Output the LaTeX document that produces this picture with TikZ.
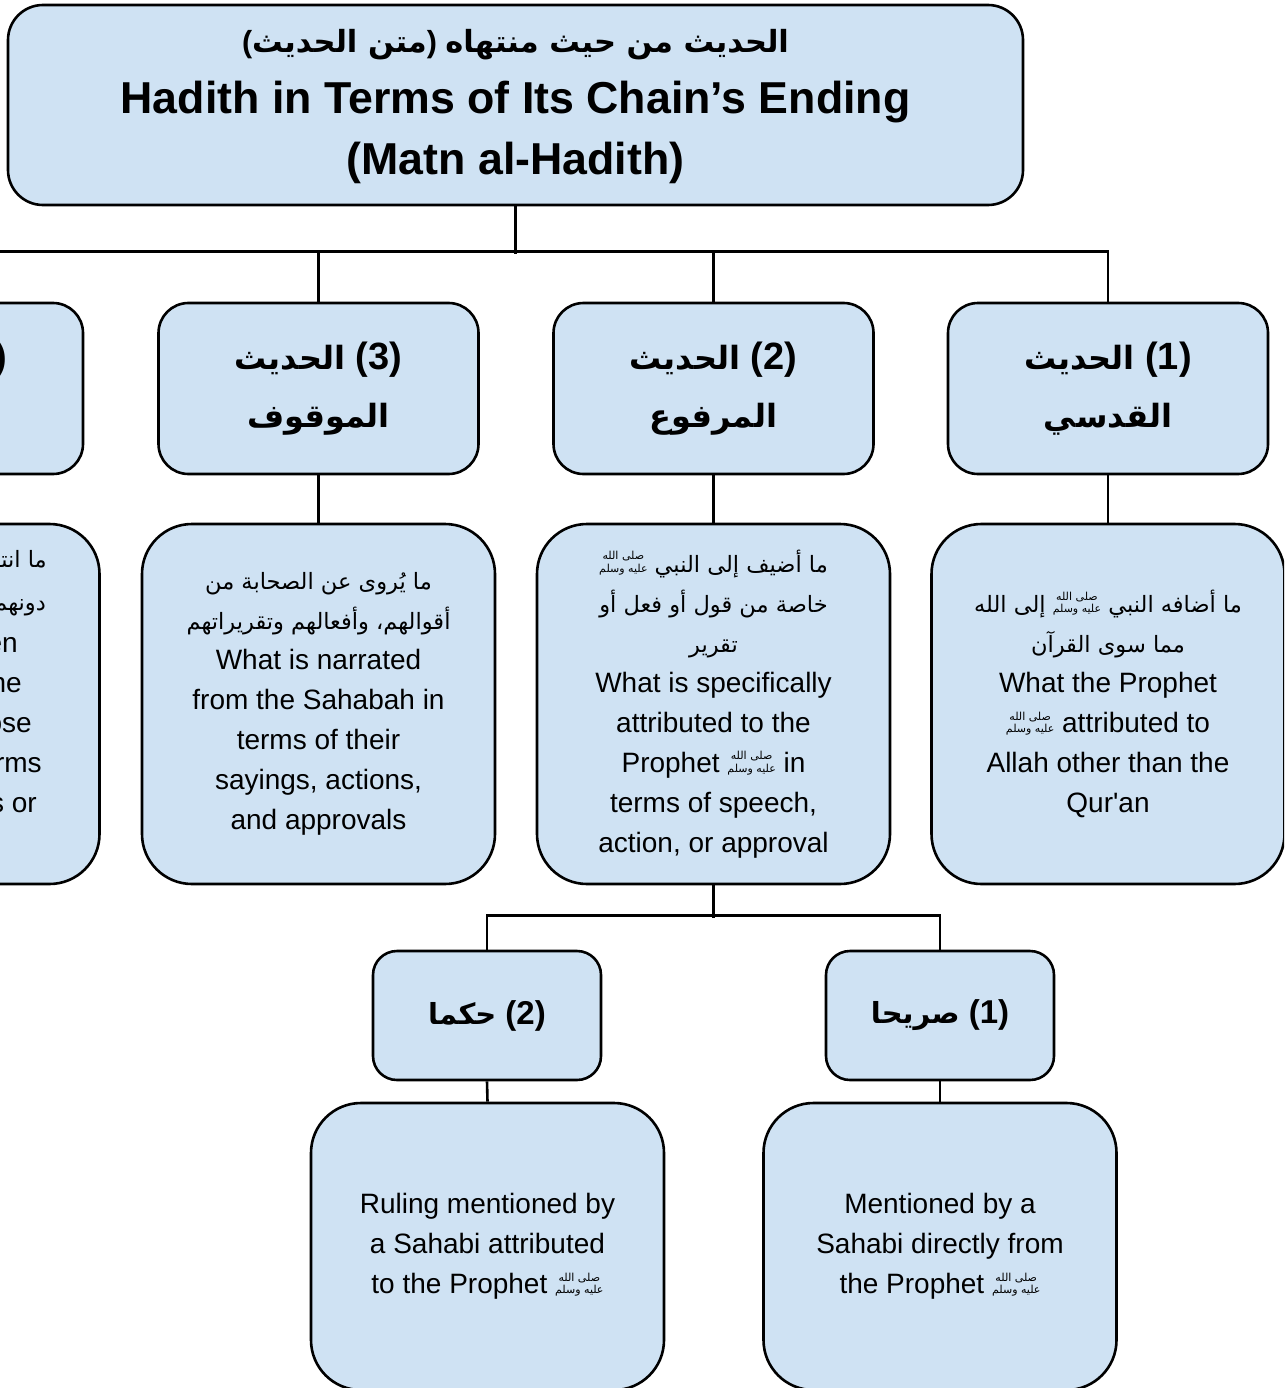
\documentclass[tikz,border=0pt]{standalone}
\usepackage{fontspec}
\newfontfamily\latinfont{Liberation Sans}
\newfontfamily\arabicfont[Script=Arabic]{DejaVu Sans}
\TeXXeTstate=1
\definecolor{boxblue}{HTML}{CFE2F3}
\newcommand\AR[1]{{\arabicfont\beginR #1\endR}}
\newcommand\ARh[1]{{\fontsize{32}{58}\selectfont\arabicfont\beginR #1\endR}}
\newcommand\ARb[1]{{\fontsize{29}{50}\selectfont\arabicfont\beginR #1\endR}}
\newcommand\ARs[1]{{\fontsize{22.5}{40}\selectfont\arabicfont\beginR #1\endR}}
\newcommand\pbuh{{\fontsize{11}{12.5}\selectfont\arabicfont\mdseries\begin{tabular}[b]{@{}c@{}}\beginR صلى الله\endR\\\beginR عليه وسلم\endR\end{tabular}}}
\begin{document}
\begin{tikzpicture}[x=1pt,y=-1pt,
  box/.style={draw=black, fill=boxblue, line width=2.6pt, inner sep=0pt, align=center},
  topbox/.style={box, rounded corners=35pt, minimum width=1015pt, minimum height=200pt},
  hdr/.style={box, rounded corners=30pt, minimum width=320pt, minimum height=171pt, font=\latinfont\bfseries\fontsize{38}{58}\selectfont},
  txt/.style={box, rounded corners=50pt, minimum width=353pt, minimum height=360pt, font=\latinfont\fontsize{28}{40}\selectfont},
  subbox/.style={box, rounded corners=24pt, minimum width=228pt, minimum height=129pt, font=\latinfont\bfseries\fontsize{33}{50}\selectfont},
  leaf/.style={box, rounded corners=50pt, minimum width=353pt, minimum height=287pt, font=\latinfont\fontsize{28}{40}\selectfont},
  frag/.style={inner sep=0pt, font=\latinfont\fontsize{28}{40}\selectfont},
  conn/.style={line width=2.6pt}]
\path[use as bounding box] (0,0) rectangle (1284,1388);
\fill[white] (0,0) rectangle (1284,1388);
\clip (0,0) rectangle (1284,1388);

% top
\node[topbox] (top) at (515.5,105) {};
\node[inner sep=0pt, align=center, font=\latinfont\bfseries\fontsize{44.7}{61}\selectfont] (title) at (515.5,107) {{\fontsize{30.5}{61}\selectfont(\AR{متن الحديث}) \AR{الحديث من حيث منتهاه}}\\Hadith in Terms of Its Chain’s Ending\\(Matn al-Hadith)};

% level 2 headers
\node[hdr] (h1) at (1108,388.5) {\ARh{الحديث} (1)\\\ARh{القدسي}};
\node[hdr] (h2) at (713.5,388.5) {\ARh{الحديث} (2)\\\ARh{المرفوع}};
\node[hdr] (h3) at (318.5,388.5) {\ARh{الحديث} (3)\\\ARh{الموقوف}};
\node[hdr] (h4) at (-77,388.5) {\ARh{الحديث} (4)\\\ARh{المقطوع}};

% text boxes
\node[txt] (t1) at (1108,704) {\ARs{ما أضافه النبي \pbuh{} إلى الله}\\\ARs{مما سوى القرآن}\\What the Prophet\\\pbuh{} attributed to\\Allah other than the\\Qur'an};
\node[txt] (t2) at (713.5,704) {\ARs{ما أضيف إلى النبي \pbuh}\\\ARs{خاصة من قول أو فعل أو}\\\ARs{تقرير}\\What is specifically\\attributed to the\\Prophet \pbuh{} in\\terms of speech,\\action, or approval};
\node[txt] (t3) at (318.5,704) {\ARs{ما يُروى عن الصحابة من}\\\ARs{أقوالهم، وأفعالهم وتقريراتهم}\\What is narrated\\from the Sahabah in\\terms of their\\sayings, actions,\\and approvals};
\node[txt] (t4) at (-77,704) {\phantom{x}};
\node[frag, anchor=east] (f1) at (47,562) {\ARs{ما انتهى إلى التابعين ومن}};
\node[frag, anchor=east] (f2) at (46,602) {\ARs{دونهم من أقوالهم وأفعالهم}};
\node[frag, anchor=base east] (f3) at (18,652) {What ended with Tabi'een};
\node[frag, anchor=base east] (f4) at (22,692) {or those after them, the};
\node[frag, anchor=base east] (f5) at (32,732) {words of those};
\node[frag, anchor=base east] (f6) at (42,772) {people, in terms};
\node[frag, anchor=base east] (f7) at (37,812) {of sayings or};

% sub boxes
\node[subbox] (s1) at (940,1015.5) {\ARb{صريحا} (1)};
\node[subbox] (s2) at (487,1015.5) {\ARb{حكما} (2)};

% leaves
\node[leaf] (b1) at (940,1246.5) {Mentioned by a\\Sahabi directly from\\the Prophet \pbuh};
\node[leaf] (b2) at (487.5,1246.5) {Ruling mentioned by\\a Sahabi attributed\\to the Prophet \pbuh};

% connectors
\draw[conn] (top.south) -- ++(0,48);
\draw[conn] (h4.north) -- ++(0,-50) -| (h1.north);
\draw[conn] (h2.north) -- ++(0,-50);
\draw[conn] (h3.north) -- ++(0,-50);
\draw[conn] (h1.south) -- (t1.north);
\draw[conn] (h2.south) -- (t2.north);
\draw[conn] (h3.south) -- (t3.north);
\draw[conn] (h4.south) -- (t4.north);
\draw[conn] (t2.south) -- ++(0,33);
\draw[conn] (s2.north) -- ++(0,-34) -| (s1.north);
\draw[conn] (s1.south) -- (b1.north);
\draw[conn] (s2.south) -- (b2.north);
\end{tikzpicture}
\end{document}
